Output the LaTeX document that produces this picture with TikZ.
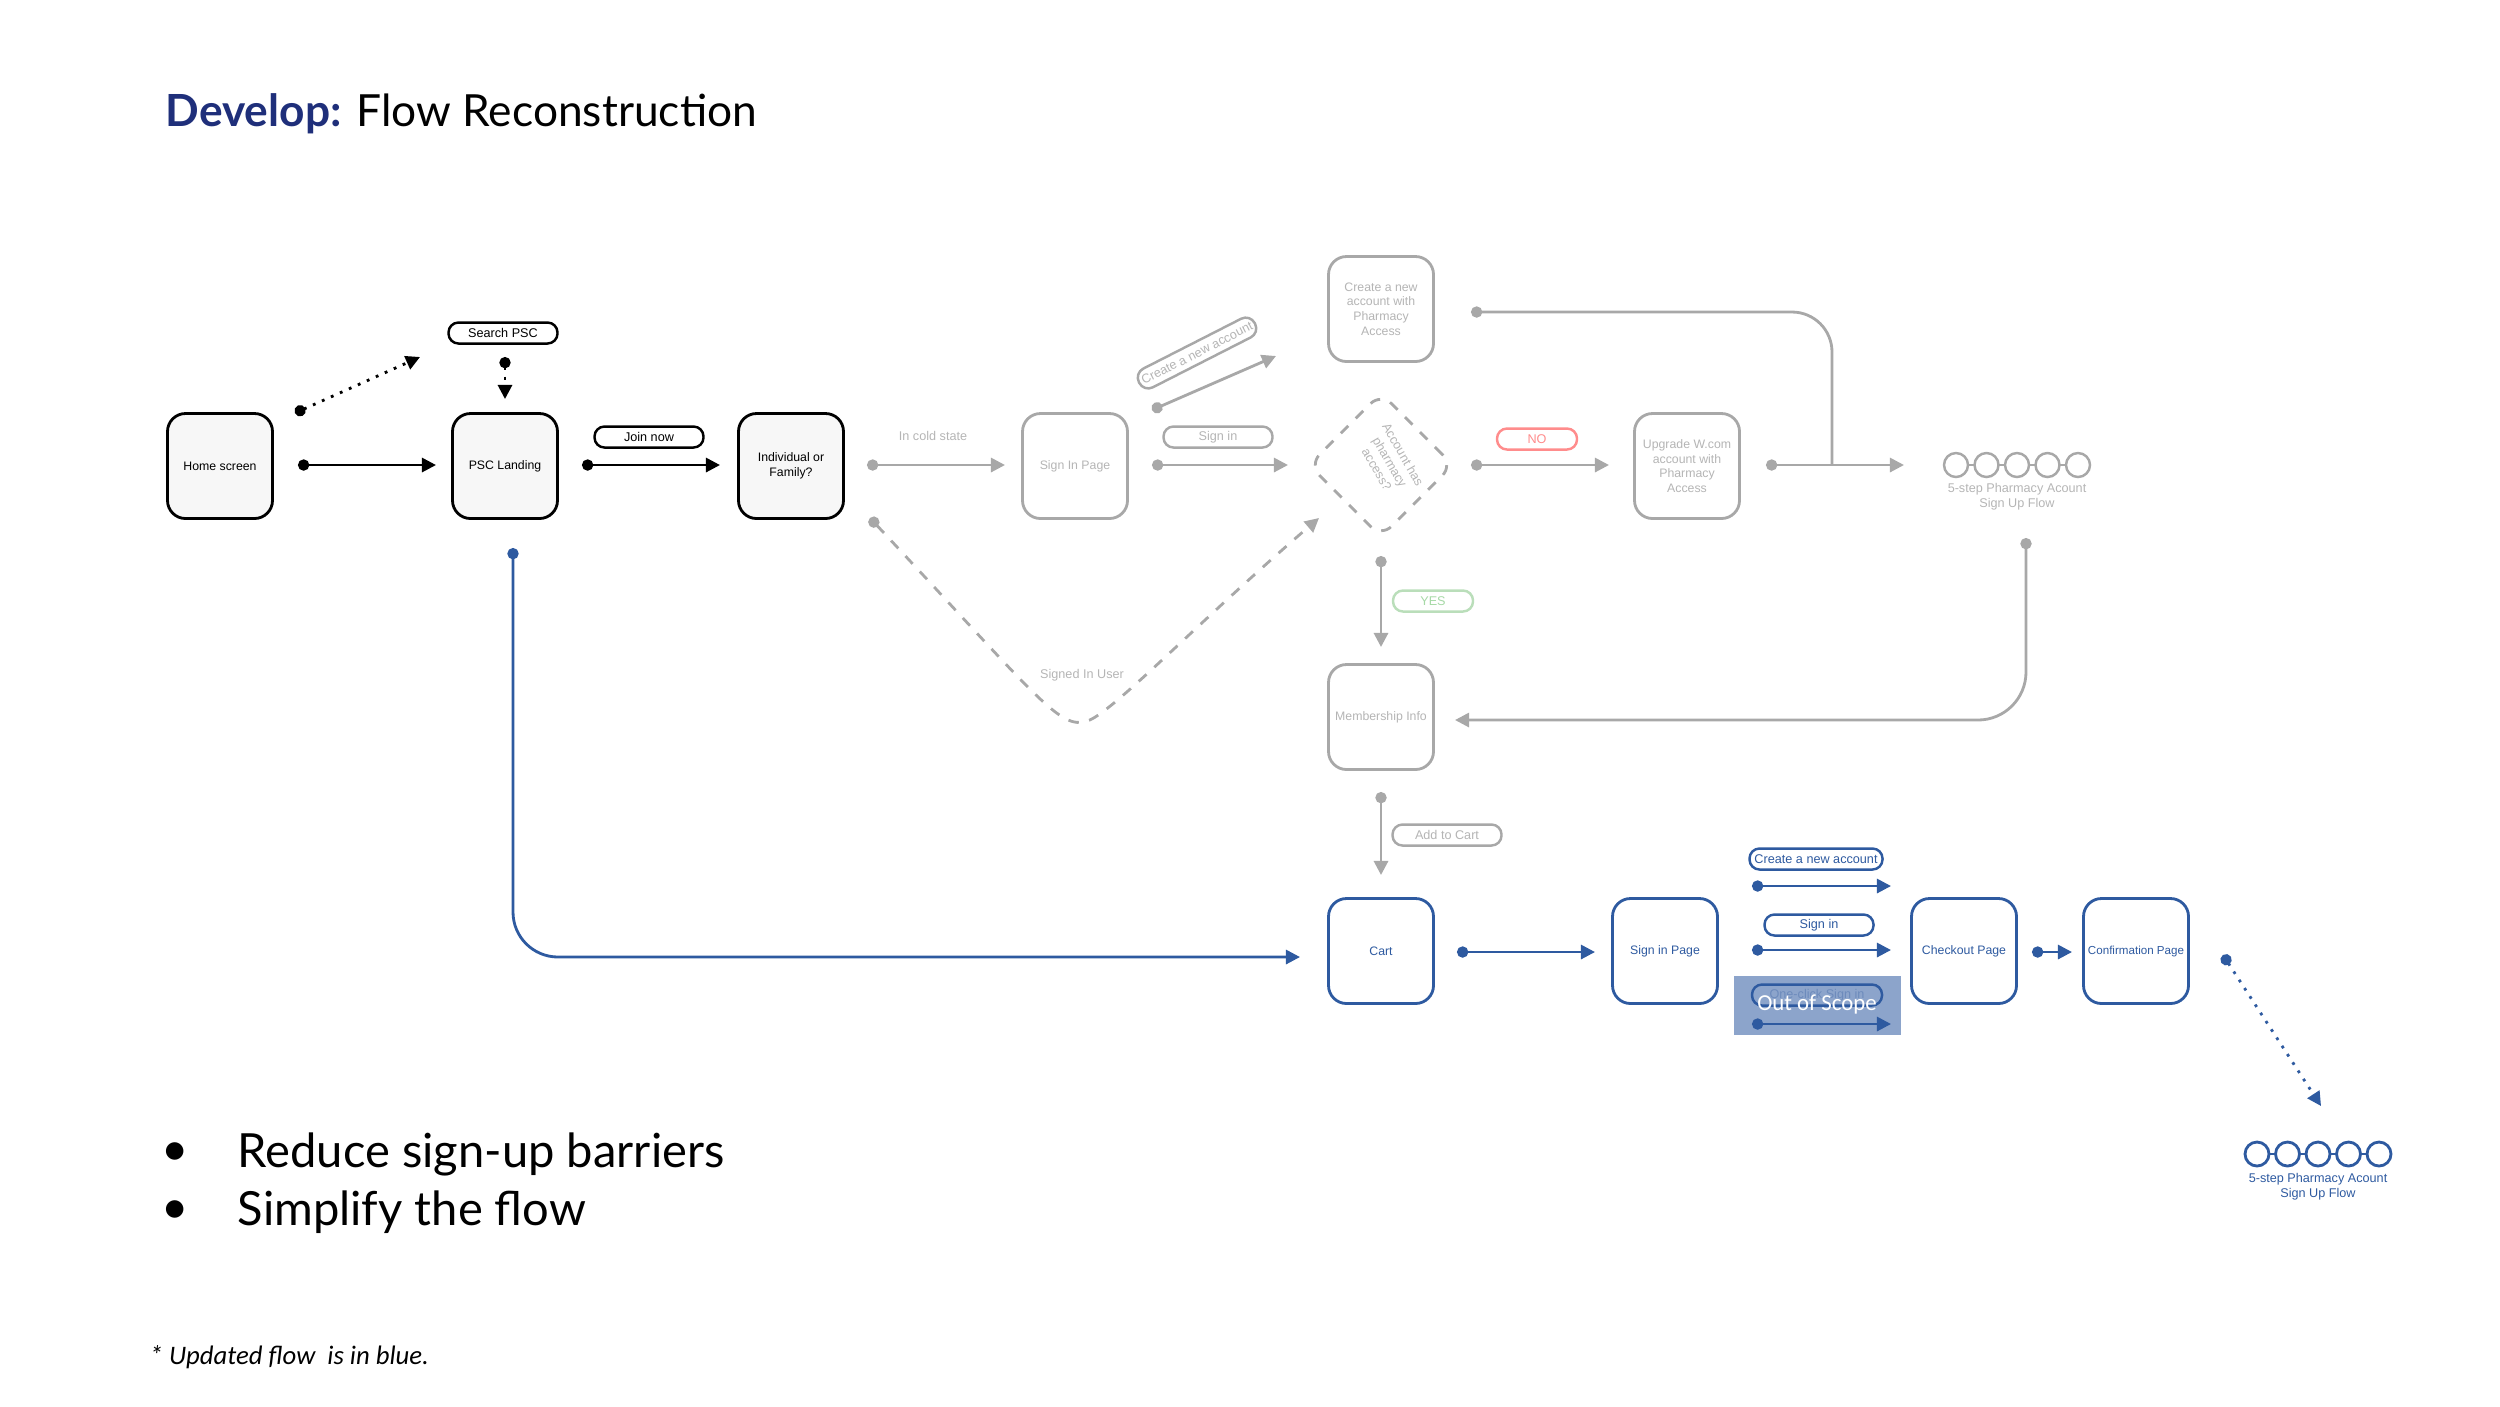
\documentclass[tikz,border=0pt]{standalone}
\usepackage{fontspec}
\setmainfont{Liberation Sans}
\newfontfamily\lato{Lato}
\newfontfamily\carl{Carlito}
\usetikzlibrary{arrows.meta,shapes.geometric}
\definecolor{bl}{HTML}{2E5AA0}
\definecolor{gr}{HTML}{A8A8A8}
\definecolor{grt}{HTML}{B5B5B5}
\definecolor{navy}{HTML}{1F2F7A}
\begin{document}
\begin{tikzpicture}[x=0.1mm,y=-0.1mm,
 box/.style={draw,rounded corners=1.8mm,minimum width=10.5mm,minimum height=10.5mm,inner sep=0pt,align=center,font=\fontsize{3.5}{4.2}\selectfont,line width=0.8pt,fill=#1},
 box/.default=black!3,
 pill/.style={draw,rounded corners=1mm,minimum width=10.9mm,minimum height=2.1mm,inner sep=0.4pt,font=\fontsize{3.6}{4.3}\selectfont,line width=0.7pt,fill=white},
 conn/.style={line width=0.8pt,{Circle[length=3.2pt]}-{Triangle[length=4pt,width=4pt]}},
 gconn/.style={conn,gr},
 bconn/.style={conn,bl},
 lbl/.style={font=\fontsize{3.6}{4.3}\selectfont}]
\useasboundingbox (0,0) rectangle (2500,1406);
% title
\node[anchor=west,inner sep=0pt,font=\lato\fontsize{12.6}{15}\selectfont] (title) at (165,114) {\textcolor{navy}{\bfseries Develop:} Flow Reconstruction};
% black nodes
\node[box] (home) at (220,466) {Home screen};
\node[box] (psc) at (505,466) {PSC Landing};
\node[box] (ind) at (791,466) {Individual or\\Family?};
\node[pill] (search) at (503,333) {Search PSC};
\node[pill] (join) at (649,437) {Join now};
\coordinate (h1) at (298,465); \coordinate (h2) at (436,465);
\draw[conn] (h1) -- (h2);
\coordinate (d1) at (295,413); \coordinate (d2) at (420,357);
\draw[conn,dotted] (d1) -- (d2);
\coordinate (s1) at (505,357); \coordinate (s2) at (505,399);
\draw[conn,dotted] (s1) -- (s2);
\coordinate (j1) at (582,465); \coordinate (j2) at (720,465);
\draw[conn] (j1) -- (j2);
% grey part
\begin{scope}[gr,text=grt]
\node[box=white,draw=gr] (sip) at (1075,466) {Sign In Page};
\node[box=white,draw=gr] (cna) at (1381,309) {Create a new\\account with\\Pharmacy\\Access};
\node[box=white,draw=gr] (upg) at (1687,466) {Upgrade W.com\\account with\\Pharmacy\\Access};
\node[box=white,draw=gr] (mem) at (1381,717) {Membership Info};
\node[draw=gr,dashed,line width=0.8pt,diamond,minimum width=14.5mm,minimum height=14.5mm,rounded corners=1.5mm] (dia) at (1381,465) {};
\node[lbl,rotate=-60,align=center,text=grt] (diat) at (1390,462) {Account has\\pharmacy\\access?};
\node[lbl,text=grt] (cold) at (933,436) {In cold state};
\coordinate (c1) at (867,465); \coordinate (c2) at (1005,465);
\draw[gconn] (c1) -- (c2);
\coordinate (u1) at (870,518); \coordinate (u2) at (1319,518);
\draw[gconn,dashed] (u1) .. controls (1040,700) and (1060,730) .. (1087,721) .. controls (1110,715) and (1200,620) .. (u2);
\node[lbl,text=grt] (signed) at (1082,675) {Signed In User};
\node[pill,draw=gr,rotate=27,minimum width=13mm] (pcna) at (1197,353) {Create a new account};
\coordinate (a1) at (1152,410); \coordinate (a2) at (1276,356);
\draw[gconn] (a1) -- (a2);
\node[pill,draw=gr] (psi) at (1218,437) {Sign in};
\coordinate (b1) at (1152,465); \coordinate (b2) at (1288,465);
\draw[gconn] (b1) -- (b2);
\node[pill,draw=red!45,text=red!45,minimum width=8mm] (no) at (1537,439) {NO};
\coordinate (n1) at (1471,465); \coordinate (n2) at (1609,465);
\draw[gconn] (n1) -- (n2);
\coordinate (e1) at (1766,465); \coordinate (e2) at (1904,465);
\draw[gconn] (e1) -- (e2);
\coordinate (jn) at (1832,465); \coordinate (ce) at (1471,312);
\draw[line width=0.8pt,{Circle[length=3.2pt]}-] (ce) -- (1792,312) arc[start angle=-90,end angle=0,radius=40] -- (jn);
\node[pill,draw=green!35!gray!40,text=green!40!gray!50,minimum width=8mm] (yes) at (1433,601) {YES};
\coordinate (y1) at (1381,556); \coordinate (y2) at (1381,647);
\draw[gconn] (y1) -- (y2);
\coordinate (f1) at (2026,538); \coordinate (f2) at (1455,720);
\draw[gconn] (f1) -- (2026,672) arc[start angle=0,end angle=90,radius=48] -- (f2);
\node[pill,draw=gr] (atc) at (1447,835) {Add to Cart};
\coordinate (t1) at (1381,792); \coordinate (t2) at (1381,875);
\draw[gconn] (t1) -- (t2);
\foreach \i in {0,...,4} \draw[line width=0.7pt] (1956+\i*30.5,465) circle[radius=12];
\foreach \i in {0,...,3} \draw[line width=0.7pt] (1968+\i*30.5,465) -- (1974.5+\i*30.5,465);
\node[lbl,align=center,text=grt] (fst) at (2017,497) {5-step Pharmacy Acount\\Sign Up Flow};
\end{scope}
% blue part
\begin{scope}[bl]
\node[box=white,draw=bl,text=bl] (cart) at (1381,951) {Cart};
\node[box=white,draw=bl,text=bl] (sib) at (1665,951) {Sign in Page};
\node[box=white,draw=bl,text=bl] (chk) at (1964,951) {Checkout Page};
\node[box=white,draw=bl,text=bl,font=\fontsize{3.3}{4}\selectfont] (conf) at (2136,951) {Confirmation Page};
\coordinate (p1) at (513,548); \coordinate (p2) at (1300,957);
\draw[bconn] (p1) -- (513,912) arc[start angle=180,end angle=90,radius=45] -- (p2);
\coordinate (k1) at (1457,952); \coordinate (k2) at (1595,952);
\draw[bconn] (k1) -- (k2);
\fill[bl!55!white] (1734,976) rectangle (1901,1035);
\node[pill,draw=bl,text=bl,minimum width=13.3mm] (pc) at (1816,859) {Create a new account};
\coordinate (q1) at (1752,886); \coordinate (q2) at (1891,886);
\draw[bconn] (q1) -- (q2);
\node[pill,draw=bl,text=bl] (ps) at (1819,925) {Sign in};
\coordinate (r1) at (1752,950); \coordinate (r2) at (1891,950);
\draw[bconn] (r1) -- (r2);
\node[pill,draw=bl,fill=none,text=bl!70,minimum width=13mm] (po) at (1817,995) {One-click Sign in};
\coordinate (o1) at (1752,1024); \coordinate (o2) at (1891,1024);
\draw[bconn] (o1) -- (o2);
\node[text=white,font=\carl\fontsize{6.5}{7}\selectfont] (oos) at (1817,1004) {Out of Scope};
\coordinate (m1) at (2032,952); \coordinate (m2) at (2072,952);
\draw[bconn] (m1) -- (m2);
\coordinate (v1) at (2223,955); \coordinate (v2) at (2321,1106);
\draw[bconn,dotted] (v1) -- (v2);
\foreach \i in {0,...,4} \draw[line width=0.8pt] (2257+\i*30.5,1154) circle[radius=12];
\foreach \i in {0,...,3} \draw[line width=0.8pt] (2269+\i*30.5,1154) -- (2275.5+\i*30.5,1154);
\node[lbl,align=center,text=bl] (fsb) at (2318,1187) {5-step Pharmacy Acount\\Sign Up Flow};
\end{scope}
% bullets
\node[font=\lato\fontsize{13.4}{15}\selectfont,inner sep=0pt] (bu1) at (175,1154) {\textbullet};
\node[font=\lato\fontsize{13.4}{15}\selectfont,inner sep=0pt] (bu2) at (175,1212) {\textbullet};
\node[anchor=west,inner sep=0pt,font=\lato\fontsize{13.4}{15}\selectfont] (b1t) at (237,1154) {Reduce sign-up barriers};
\node[anchor=west,inner sep=0pt,font=\lato\fontsize{13.4}{15}\selectfont] (b2t) at (237,1212) {Simplify the flow};
\node[anchor=west,inner sep=0pt,font=\carl\itshape\fontsize{7.6}{8}\selectfont] (foot) at (149,1357) {* Updated flow\ \ is in blue.};
\end{tikzpicture}
\end{document}
